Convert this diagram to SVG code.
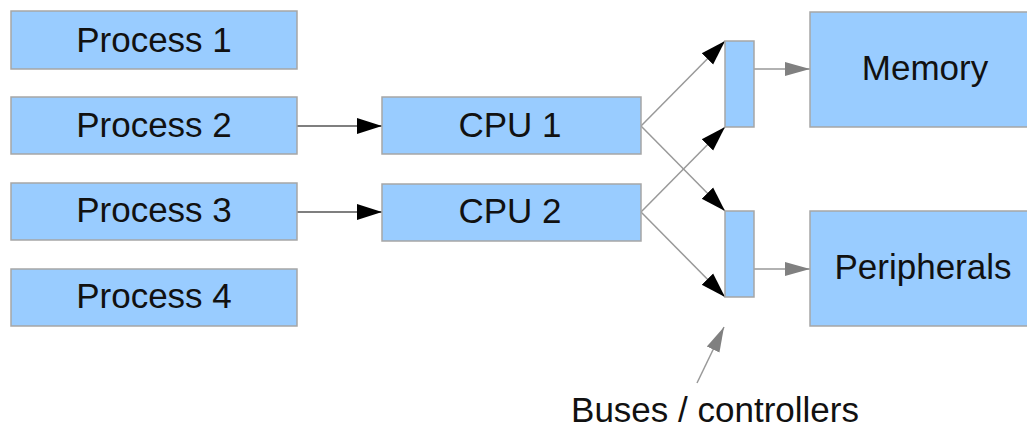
<svg xmlns="http://www.w3.org/2000/svg" width="1027" height="427" viewBox="0 0 1027 427">
<style>
.box{fill:#99ccff;stroke:#a6a6a6;stroke-width:1.5}
.t{font-family:"Liberation Sans",Arial,sans-serif;font-size:35px;fill:#111;text-anchor:middle}
.c{stroke:#555;stroke-width:1.5;fill:none}
.g{stroke:#999;stroke-width:1.5;fill:none}
</style>
<defs>
<marker id="ab" markerUnits="userSpaceOnUse" markerWidth="26" markerHeight="18" refX="25" refY="9" orient="auto">
<path d="M0,1 L25,9 L0,17 Z" fill="#000"/>
</marker>
<marker id="ag" markerUnits="userSpaceOnUse" markerWidth="26" markerHeight="18" refX="25" refY="9" orient="auto">
<path d="M0,2 L25,9 L0,16 Z" fill="#808080"/>
</marker>
</defs>
<rect width="1027" height="427" fill="#fff"/>
<g id="connectors">
<line class="c" x1="297" y1="126" x2="382" y2="126" marker-end="url(#ab)"/>
<line class="c" x1="297" y1="212" x2="382" y2="212" marker-end="url(#ab)"/>
<line class="g" x1="641" y1="126" x2="725" y2="41" marker-end="url(#ab)"/>
<line class="g" x1="641" y1="126" x2="725" y2="211" marker-end="url(#ab)"/>
<line class="g" x1="641" y1="212" x2="725" y2="127" marker-end="url(#ab)"/>
<line class="g" x1="641" y1="212" x2="725" y2="297" marker-end="url(#ab)"/>
<line class="g" x1="754" y1="69" x2="810" y2="69" marker-end="url(#ag)"/>
<line class="g" x1="754" y1="269" x2="810" y2="269" marker-end="url(#ag)"/>
<line class="g" x1="697" y1="383" x2="724" y2="327" marker-end="url(#ag)"/>
</g>
<g id="process1"><rect class="box" x="11" y="11" width="286" height="58"/><text class="t" x="154" y="52">Process 1</text></g>
<g id="process2"><rect class="box" x="11" y="97" width="286" height="57"/><text class="t" x="154" y="137">Process 2</text></g>
<g id="process3"><rect class="box" x="11" y="183" width="286" height="57"/><text class="t" x="154" y="222">Process 3</text></g>
<g id="process4"><rect class="box" x="11" y="269" width="286" height="57"/><text class="t" x="154" y="308">Process 4</text></g>
<g id="cpu1"><rect class="box" x="382" y="97" width="259" height="57"/><text class="t" x="510" y="137">CPU 1</text></g>
<g id="cpu2"><rect class="box" x="382" y="184" width="259" height="57"/><text class="t" x="510" y="223">CPU 2</text></g>
<g id="bus1"><rect class="box" x="725" y="41" width="29" height="86"/></g>
<g id="bus2"><rect class="box" x="725" y="211" width="29" height="86"/></g>
<g id="memory"><rect class="box" x="810" y="12" width="225" height="115"/><text class="t" x="925" y="80">Memory</text></g>
<g id="peripherals"><rect class="box" x="810" y="211" width="225" height="115"/><text class="t" x="923" y="279">Peripherals</text></g>
<g id="label"><text class="t" x="715" y="422">Buses / controllers</text></g>
</svg>
